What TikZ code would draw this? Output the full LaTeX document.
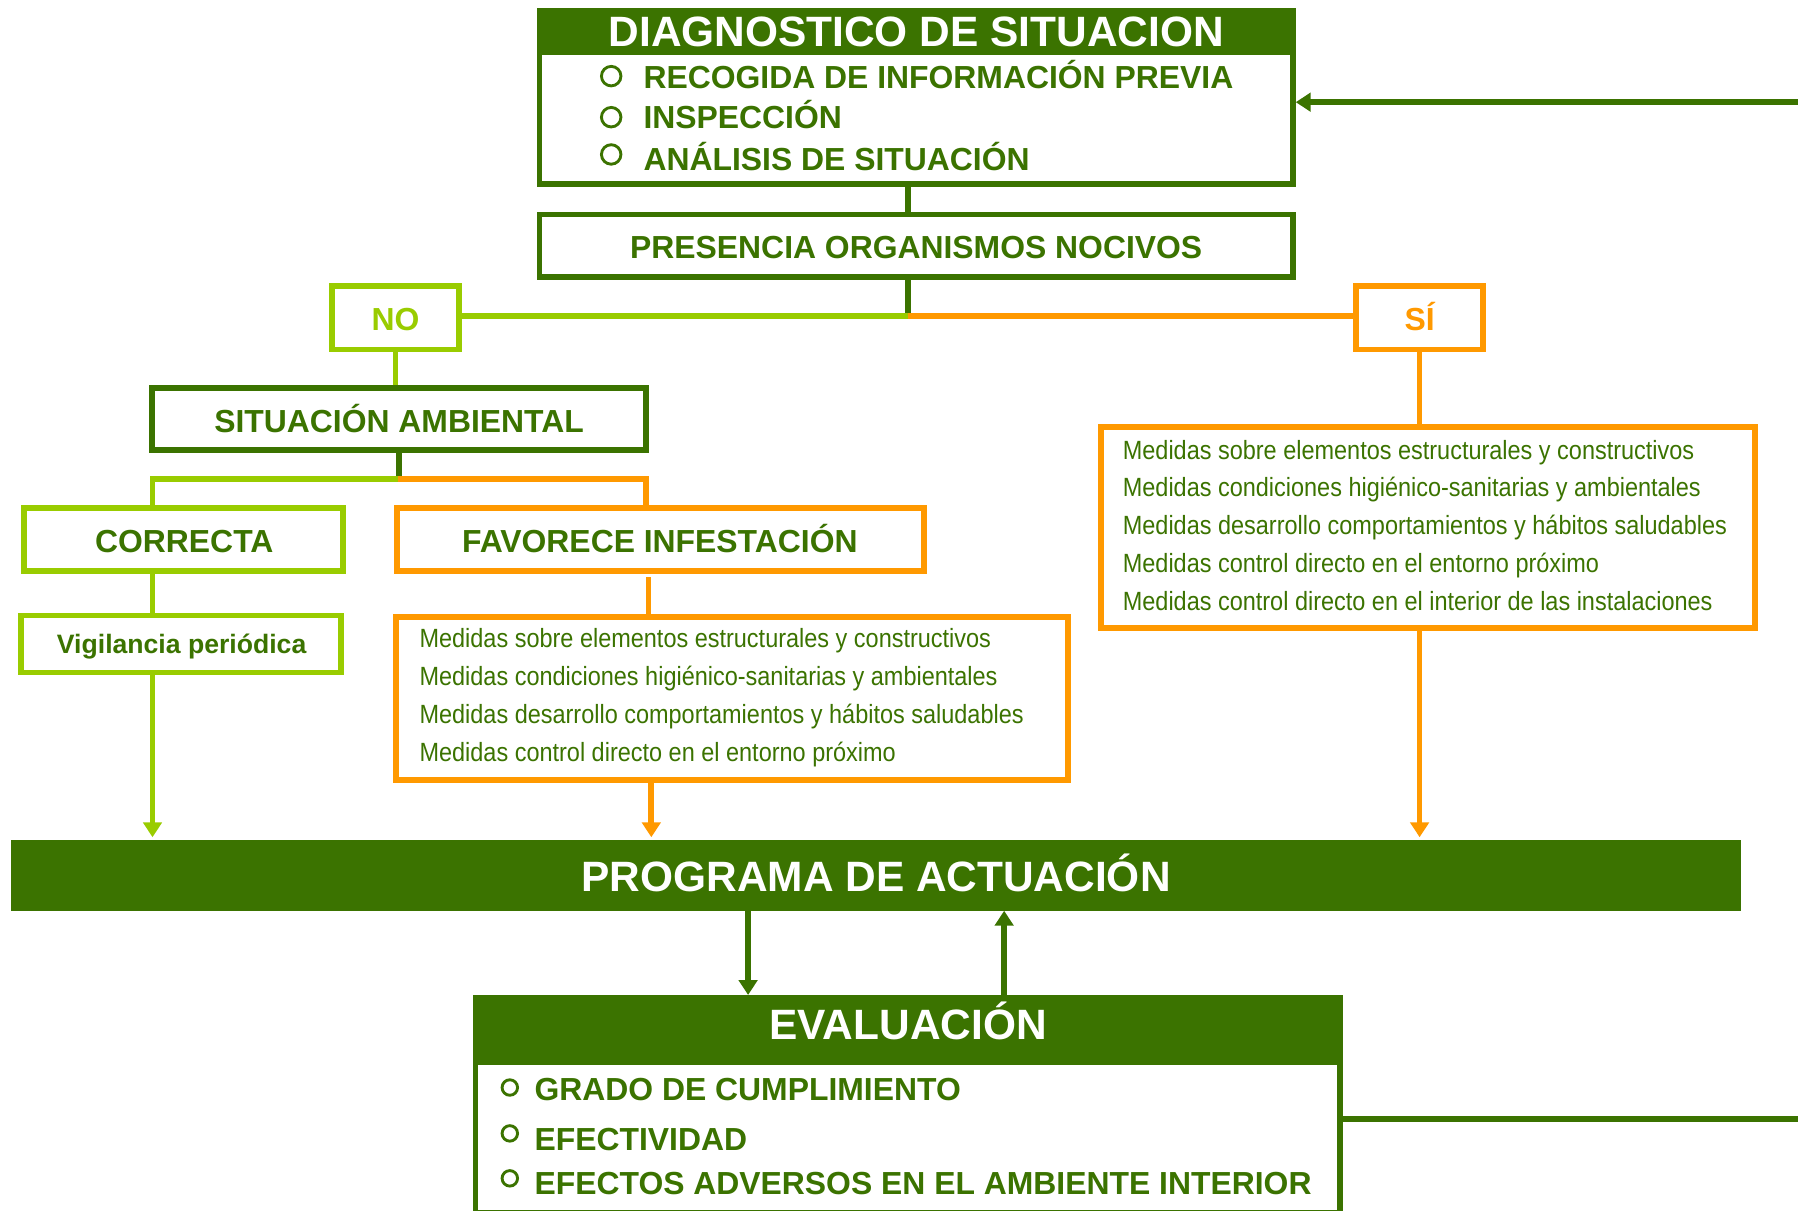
\documentclass[tikz,border=0pt]{standalone}
\usepackage{fontspec}
\setmainfont{Liberation Sans}
\newfontfamily\narrowfont{Liberation Sans}[FakeStretch=0.89]
\usetikzlibrary{arrows.meta,calc,backgrounds}
\definecolor{dg}{HTML}{3B7300}
\definecolor{lg}{HTML}{99CC00}
\definecolor{og}{HTML}{FF9900}
\begin{document}
\begin{tikzpicture}[x=1pt,y=-1pt,
  box/.style={draw, line width=5pt, inner sep=0pt, rectangle, fill=white},
  ttl/.style={anchor=base, text=white, font=\bfseries\fontsize{37pt}{40pt}\selectfont, inner sep=0pt},
  itm/.style={anchor=base west, text=dg, font=\bfseries\fontsize{27.8pt}{30pt}\selectfont, inner sep=0pt},
  lbl/.style={anchor=base, text=dg, font=\bfseries\fontsize{27.8pt}{30pt}\selectfont, inner sep=0pt},
  med/.style={anchor=base west, text=dg, font=\narrowfont\fontsize{23pt}{26pt}\selectfont, inner sep=0pt},
  bul/.style={circle, draw=dg, line width=2.5pt, inner sep=0pt},
  cn/.style={line width=5pt},
  arr/.style={line width=5pt, -{Triangle[length=13pt,width=16pt]}},
]
\useasboundingbox (0,0) rectangle (1568,1056);

% ---------- DIAGNOSTICO ----------
\node[box, draw=dg, minimum width=657pt, minimum height=151pt] (diag) at (799,85) {};
\fill[dg] (diag.north west) rectangle ($(diag.north east)+(0,41)$);
\node[ttl] (diagt) at (799,40.7) {DIAGNOSTICO DE SITUACION};
\node[bul, minimum size=17pt] (db1) at (533,66.4) {};
\node[bul, minimum size=17pt] (db2) at (533,102.2) {};
\node[bul, minimum size=17pt] (db3) at (533,134.7) {};
\node[itm] (di1) at (561,77) {RECOGIDA DE INFORMACIÓN PREVIA};
\node[itm] (di2) at (561,111.9) {INSPECCIÓN};
\node[itm] (di3) at (561,148.3) {ANÁLISIS DE SITUACIÓN};

% ---------- PRESENCIA ----------
\node[box, draw=dg, minimum width=657pt, minimum height=54.5pt] (pres) at (799,214.25) {};
\node[lbl] (prest) at (799,225.3) {PRESENCIA ORGANISMOS NOCIVOS};

% ---------- NO / SI ----------
\node[box, draw=lg, minimum width=111pt, minimum height=55pt] (no) at (345,277.2) {};
\node[lbl, text=lg] (not) at (345,287.8) {NO};
\node[box, draw=og, minimum width=111pt, minimum height=55pt] (si) at (1238,277.2) {};
\node[lbl, text=og] (sit2) at (1238,287.8) {SÍ};

% ---------- SITUACION AMBIENTAL ----------
\node[box, draw=dg, minimum width=431pt, minimum height=54.5pt] (sit) at (348,365.5) {};
\node[lbl] (sitt) at (348,377) {SITUACIÓN AMBIENTAL};

% ---------- CORRECTA / FAVORECE ----------
\node[box, draw=lg, minimum width=278pt, minimum height=55.2pt] (cor) at (160.2,470.5) {};
\node[lbl] (cort) at (160.7,481.7) {CORRECTA};
\node[box, draw=og, minimum width=459.6pt, minimum height=55.2pt] (fav) at (575.7,470.5) {};
\node[lbl] (favt) at (575.4,481.7) {FAVORECE INFESTACIÓN};

% ---------- Vigilancia ----------
\node[box, draw=lg, minimum width=279pt, minimum height=49.7pt] (vig) at (158,561.7) {};
\node[lbl, font=\bfseries\fontsize{23.2pt}{26pt}\selectfont] (vigt) at (158.4,569.8) {Vigilancia periódica};

% ---------- Medidas (favorece) ----------
\node[box, draw=og, minimum width=586pt, minimum height=142pt] (m2) at (638.5,609) {};
\node[med] (m2a) at (365.7,564.3) {Medidas sobre elementos estructurales y constructivos};
\node[med] (m2b) at (365.7,597.4) {Medidas condiciones higiénico-sanitarias y ambientales};
\node[med] (m2c) at (365.7,630.8) {Medidas desarrollo comportamientos y hábitos saludables};
\node[med] (m2d) at (365.7,664.2) {Medidas control directo en el entorno próximo};

% ---------- Medidas (si) ----------
\node[box, draw=og, minimum width=570.6pt, minimum height=175.3pt] (m1) at (1245.4,460.2) {};
\node[med] (m1a) at (979,400.3) {Medidas sobre elementos estructurales y constructivos};
\node[med] (m1b) at (979,433.1) {Medidas condiciones higiénico-sanitarias y ambientales};
\node[med] (m1c) at (979,466) {Medidas desarrollo comportamientos y hábitos saludables};
\node[med] (m1d) at (979,499.4) {Medidas control directo en el entorno próximo};
\node[med] (m1e) at (979,532.6) {Medidas control directo en el interior de las instalaciones};

% ---------- PROGRAMA ----------
\node[fill=dg, inner sep=0pt, outer sep=0pt, minimum width=1508pt, minimum height=61.7pt] (prog) at (764,763.4) {};
\node[ttl] (progt) at (764,777.6) {PROGRAMA DE ACTUACIÓN};

% ---------- EVALUACION ----------
\node[box, draw=dg, minimum width=754pt, minimum height=187.8pt] (ev) at (791.7,964.1) {};
\fill[dg] (ev.north west) rectangle ($(ev.north east)+(0,61.1)$);
\node[ttl] (evt) at (792,906.4) {EVALUACIÓN};
\node[bul, minimum size=13.5pt] (eb1) at (444.6,948.4) {};
\node[bul, minimum size=13.5pt] (eb2) at (444.6,988.4) {};
\node[bul, minimum size=13.5pt] (eb3) at (444.6,1027.6) {};
\node[itm] (ei1) at (466,959.3) {GRADO DE CUMPLIMIENTO};
\node[itm] (ei2) at (466,1002.9) {EFECTIVIDAD};
\node[itm] (ei3) at (466,1042.1) {EFECTOS ADVERSOS EN EL AMBIENTE INTERIOR};

% ---------- connectors ----------
\coordinate (j1) at (792,275.4);
\coordinate (j2) at (347.5,417.7);
\coordinate (c1) at (133,417.7);
\coordinate (c2) at (563.5,417.7);
\coordinate (c4) at (565.5,500);
\coordinate (c5) at (568,700);
\coordinate (d1) at (652.4,830);
\coordinate (d2) at (875.7,830);
\coordinate (e1) at (1568,975.7);
\coordinate (e2) at (1568,89.1);

\begin{scope}[on background layer]
\draw[cn, dg] (diag.south -| j1) -- (pres.north -| j1);
\draw[cn, dg] (pres.south -| j1) -- (j1);
\draw[cn, lg] (j1) -- (j1 -| no.east);
\draw[cn, og] (j1) -- (j1 -| si.west);
\draw[cn, lg] (no.south) -- (no.south |- sit.north);
\draw[cn, dg] (sit.south) -- (sit.south |- j2);
\draw[cn, lg] (j2) -- (c1) -- (c1 |- cor.north);
\draw[cn, og] (j2) -- (c2) -- (c2 |- fav.north);
\draw[cn, lg] (c1 |- cor.south) -- (c1 |- vig.north);
\draw[cn, og, shorten <=3pt] (c4 |- fav.south) -- (c4 |- m2.north);
\draw[cn, og] (si.south) -- (si.south |- m1.north);
\draw[cn, dg] (ev.east |- e1) -- (e1);
\end{scope}
\draw[arr, lg, shorten >=2.4pt] (c1 |- vig.south) -- (c1 |- prog.north);
\draw[arr, og, shorten >=2.4pt] (c5 |- m2.south) -- (c5 |- prog.north);
\draw[arr, og, shorten >=2.4pt] (si.south |- m1.south) -- (si.south |- prog.north);
\draw[arr, dg] (d1 |- prog.south) -- (d1 |- ev.north);
\draw[arr, dg] (d2 |- ev.north) -- (d2 |- prog.south);
\draw[arr, dg] (e2) -- (e2 -| diag.east);
\end{tikzpicture}
\end{document}
